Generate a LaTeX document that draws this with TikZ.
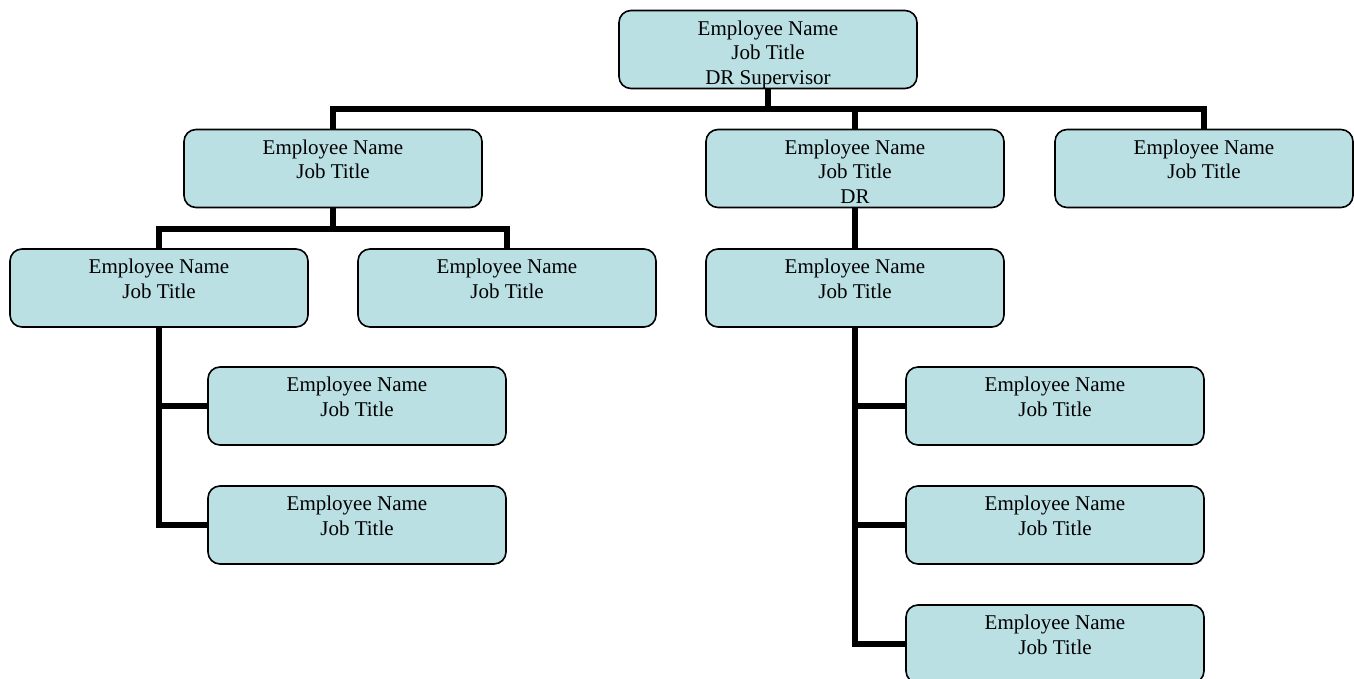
\documentclass[tikz,border=0pt]{standalone}
\usepackage{fontspec}
\setmainfont{Liberation Serif}
\definecolor{boxblue}{HTML}{BAE0E4}
\newcommand{\emptext}[1]{\parbox[c][78pt][t]{298pt}{\centering\vspace*{10.3pt}#1\par}}
\begin{document}
\begin{tikzpicture}[x=1pt,y=-1pt,
  emp/.style={draw=black, line width=1.6pt, rounded corners=12pt, fill=boxblue,
    minimum width=298pt, minimum height=78pt, inner sep=0pt,
    font=\fontsize{21}{24.4}\selectfont},
  link/.style={draw=black, line width=6pt}]
\useasboundingbox (0,0) rectangle (1354,679);
\node[emp] (T) at (768,49.5) {\emptext{Employee Name\\Job Title\\DR Supervisor}};
\node[emp] (A) at (333,168.5) {\emptext{Employee Name\\Job Title}};
\node[emp] (B) at (855,168.5) {\emptext{Employee Name\\Job Title\\DR}};
\node[emp] (C) at (1204,168.5) {\emptext{Employee Name\\Job Title}};
\node[emp] (D) at (159,288) {\emptext{Employee Name\\Job Title}};
\node[emp] (E) at (507,288) {\emptext{Employee Name\\Job Title}};
\node[emp] (F) at (855,288) {\emptext{Employee Name\\Job Title}};
\node[emp] (G) at (357,406) {\emptext{Employee Name\\Job Title}};
\node[emp] (H) at (357,525) {\emptext{Employee Name\\Job Title}};
\node[emp] (I) at (1055,406) {\emptext{Employee Name\\Job Title}};
\node[emp] (J) at (1055,525) {\emptext{Employee Name\\Job Title}};
\node[emp] (K) at (1055,644) {\emptext{Employee Name\\Job Title}};
\coordinate (bus1) at (768,109);
\coordinate (bus2) at (333,229);
\path[link] (T.south) -- (bus1) -| (A.north);
\path[link] (bus1) -| (C.north);
\path[link] (B.north) -- (B.north |- bus1);
\path[link] (A.south) -- (bus2) -| (D.north);
\path[link] (bus2) -| (E.north);
\path[link] (B.south) -- (F.north);
\path[link] (D.south) |- (H.west);
\path[link] (D.south |- G.west) -- (G.west);
\path[link] (F.south) |- (K.west);
\path[link] (F.south |- I.west) -- (I.west);
\path[link] (F.south |- J.west) -- (J.west);
\end{tikzpicture}
\end{document}
